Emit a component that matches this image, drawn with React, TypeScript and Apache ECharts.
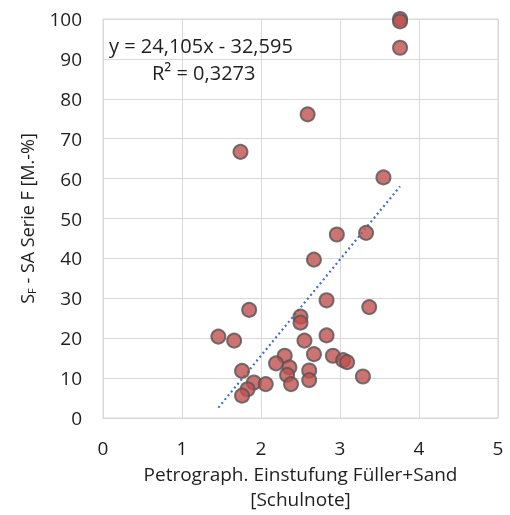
import React, { useEffect, useRef } from "react";
import * as echarts from "echarts";

const xValues = [3.76, 3.76, 3.76, 2.59, 1.74, 3.55, 2.96, 3.33, 2.67, 1.85, 2.83, 3.37, 2.50, 2.50, 1.46, 1.66, 2.55, 2.83, 2.67, 2.30, 2.91, 2.19, 3.04, 3.09, 2.36, 1.76, 2.61, 2.33, 3.29, 2.61, 1.91, 2.06, 2.38, 1.83, 1.76];
const yValues = [100, 99.4, 92.8, 76.1, 66.7, 60.3, 46.0, 46.4, 39.7, 27.1, 29.5, 27.8, 25.4, 23.9, 20.4, 19.4, 19.4, 20.7, 16.0, 15.6, 15.6, 13.7, 14.5, 14.0, 12.7, 11.8, 11.9, 10.8, 10.4, 9.5, 8.9, 8.5, 8.5, 7.2, 5.6];
const trendSlope = 24.105;
const trendIntercept = -32.595;
const equationText = "y = 24,105x - 32,595";
const r2Text = "R² = 0,3273";
const xTitle = "Petrograph. Einstufung Füller+Sand\n[Schulnote]";

export default function App() {
  const ref = useRef<HTMLDivElement>(null);
  useEffect(() => {
    if (!ref.current) return;
    const chart = echarts.init(ref.current, null, { renderer: "svg" });
    const pts = xValues.map((x, i) => [x, yValues[i]]);
    const xmin = Math.min(...xValues);
    const xmax = Math.max(...xValues);
    const trend = [
      [xmin, trendSlope * xmin + trendIntercept],
      [xmax, trendSlope * xmax + trendIntercept],
    ];
    const font = "'Open Sans', sans-serif";
    const txt = "#1f1f1f";
    chart.setOption({
      animation: false,
      grid: {
        left: 103,
        right: 12,
        top: 19,
        bottom: 97,
        show: true,
        borderColor: "#D9D9D9",
        borderWidth: 1,
        containLabel: false,
        outerBoundsMode: "none",
      },
      xAxis: {
        type: "value",
        min: 0,
        max: 5,
        interval: 1,
        axisLine: { show: true, lineStyle: { color: "#D9D9D9" } },
        axisTick: { show: false },
        splitLine: { show: true, lineStyle: { color: "#D9D9D9", width: 1 } },
        axisLabel: { color: txt, fontSize: 19, fontFamily: font, margin: 20, showMaxLabel: true, showMinLabel: true },
        name: xTitle,
        nameLocation: "middle",
        nameGap: 42,
        nameTextStyle: { color: txt, fontSize: 19, fontFamily: font, lineHeight: 25 },
      },
      yAxis: {
        type: "value",
        min: 0,
        max: 100,
        interval: 10,
        axisLine: { show: true, lineStyle: { color: "#D9D9D9" } },
        axisTick: { show: false },
        splitLine: { show: true, lineStyle: { color: "#D9D9D9", width: 1 } },
        axisLabel: { color: txt, fontSize: 19, fontFamily: font, margin: 21, showMaxLabel: true },
        name: "S{sub|F} - SA Serie F [M.-%]",
        nameLocation: "middle",
        nameGap: 66,
        nameTextStyle: {
          color: txt,
          fontSize: 18,
          fontFamily: font,
          rich: {
            sub: { fontSize: 11, fontFamily: font, color: txt, verticalAlign: "bottom", padding: [10, 0, 0, 0] },
          },
        },
      },
      series: [
        {
          type: "line",
          data: trend,
          showSymbol: false,
          symbol: "none",
          lineStyle: { color: "#4472C4", width: 2.2, type: [2, 3] },
          z: 1,
        },
        {
          type: "scatter",
          data: pts,
          symbolSize: 14,
          itemStyle: { color: "#C0504D", borderColor: "#555555", borderWidth: 2 },
          z: 2,
        },
      ],
      graphic: [
        {
          type: "text",
          left: 109,
          top: 35,
          style: { text: equationText, font: `20px ${font}`, fill: txt },
          z: 10,
        },
        {
          type: "text",
          left: 152,
          top: 62,
          style: { text: r2Text, font: `20px ${font}`, fill: txt },
          z: 10,
        },
      ],
    });
    return () => chart.dispose();
  }, []);
  return <div ref={ref} style={{ position: "fixed", left: 0, top: 0, width: 510, height: 515 }} />;
}
